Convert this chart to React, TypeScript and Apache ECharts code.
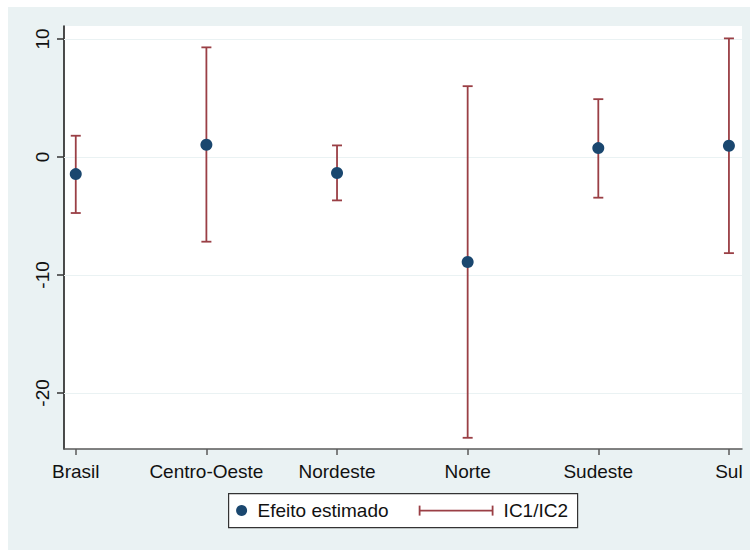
import React, { useEffect, useRef } from "react";
import * as echarts from "echarts";

const categories = ["Brasil", "Centro-Oeste", "Nordeste", "Norte", "Sudeste", "Sul"];
const estimates = [-1.45, 1.04, -1.36, -8.9, 0.75, 0.95];
const ciLower = [-4.75, -7.18, -3.68, -23.8, -3.45, -8.15];
const ciUpper = [1.8, 9.29, 0.98, 6.0, 4.9, 10.05];
const yTicks = [-20, -10, 0, 10];
const xPositions = [1, 2, 3, 4, 5, 6];

const FONT = "'Liberation Sans', Arial, sans-serif";
const BG = "#eaf2f3";
const NAVY = "#1a476f";
const MAROON = "#9a3f45";

export default function App() {
  const ref = useRef<HTMLDivElement>(null);

  useEffect(() => {
    if (!ref.current) return;
    const chart = echarts.init(ref.current, undefined, { renderer: "svg" });

    const errData = xPositions.map((x, i) => [x, ciLower[i], ciUpper[i]]);
    const ptData = xPositions.map((x, i) => [x, estimates[i]]);

    const option: any = {
      animation: false,
      backgroundColor: BG,
      textStyle: { fontFamily: FONT },
      grid: {
        show: true,
        backgroundColor: "#ffffff",
        borderWidth: 0,
        left: 56,
        right: 8,
        top: 19,
        bottom: 101,
      },
      xAxis: {
        type: "value",
        min: 0.91,
        max: 6.1,
        splitLine: { show: false },
        axisLine: { show: true, onZero: false, lineStyle: { color: "#5a5a5a", width: 1.5 } },
        axisTick: {
          show: true,
          customValues: xPositions,
          length: 6,
          lineStyle: { color: "#5a5a5a", width: 1.5 },
        },
        axisLabel: {
          customValues: xPositions,
          formatter: (v: number) => categories[Math.round(v) - 1] ?? "",
          fontFamily: FONT,
          fontSize: 19,
          color: "#111",
          margin: 13,
        },
      },
      yAxis: {
        type: "value",
        min: -24.75,
        max: 11.1,
        splitLine: { show: false },
        axisLine: { show: true, onZero: false, lineStyle: { color: "#111", width: 1.5 } },
        axisTick: {
          show: true,
          customValues: yTicks,
          length: 7,
          lineStyle: { color: "#333", width: 1.5 },
        },
        axisLabel: {
          customValues: yTicks,
          rotate: 90,
          fontFamily: FONT,
          fontSize: 19,
          color: "#111",
          margin: 12,
        },
      },
      series: [
        {
          name: "IC1/IC2",
          type: "custom",
          z: 2,
          data: errData,
          renderItem: (params: any, api: any) => {
            const x = api.value(0);
            const lo = api.coord([x, api.value(1)]);
            const hi = api.coord([x, api.value(2)]);
            const hw = 5;
            const style = { stroke: MAROON, lineWidth: 1.8, fill: "none" };
            return {
              type: "group",
              children: [
                { type: "line", shape: { x1: lo[0], y1: lo[1], x2: hi[0], y2: hi[1] }, style },
                { type: "line", shape: { x1: lo[0] - hw, y1: lo[1], x2: lo[0] + hw, y2: lo[1] }, style },
                { type: "line", shape: { x1: hi[0] - hw, y1: hi[1], x2: hi[0] + hw, y2: hi[1] }, style },
              ],
            };
          },
          markLine: {
            silent: true,
            symbol: "none",
            label: { show: false },
            lineStyle: { color: BG, type: "solid", width: 1.2 },
            data: yTicks.map((t) => ({ yAxis: t })),
            z: 1,
          },
        },
        {
          name: "Efeito estimado",
          type: "scatter",
          z: 3,
          symbol: "circle",
          symbolSize: 12,
          itemStyle: { color: NAVY, opacity: 1 },
          data: ptData,
        },
      ],
      graphic: [
        {
          type: "group",
          left: 220,
          top: 486,
          children: [
            {
              type: "rect",
              shape: { x: 0, y: 0, width: 349, height: 34 },
              style: { fill: "#ffffff", stroke: "#333", lineWidth: 1.2 },
            },
            { type: "circle", shape: { cx: 13, cy: 17, r: 5.5 }, style: { fill: NAVY } },
            {
              type: "text",
              x: 29,
              y: 17,
              style: {
                text: "Efeito estimado",
                fontFamily: FONT,
                fontSize: 19,
                fill: "#111",
                verticalAlign: "middle",
                align: "left",
              },
            },
            { type: "line", shape: { x1: 191, y1: 17, x2: 264, y2: 17 }, style: { stroke: MAROON, lineWidth: 1.8 } },
            { type: "line", shape: { x1: 191, y1: 12, x2: 191, y2: 22 }, style: { stroke: MAROON, lineWidth: 1.8 } },
            { type: "line", shape: { x1: 264, y1: 12, x2: 264, y2: 22 }, style: { stroke: MAROON, lineWidth: 1.8 } },
            {
              type: "text",
              x: 275,
              y: 17,
              style: {
                text: "IC1/IC2",
                fontFamily: FONT,
                fontSize: 19,
                fill: "#111",
                verticalAlign: "middle",
                align: "left",
              },
            },
          ],
        },
      ],
    };

    chart.setOption(option);
    return () => chart.dispose();
  }, []);

  return (
    <div
      ref={ref}
      style={{ position: "fixed", left: 8, top: 7, width: 742, height: 543 }}
    />
  );
}
